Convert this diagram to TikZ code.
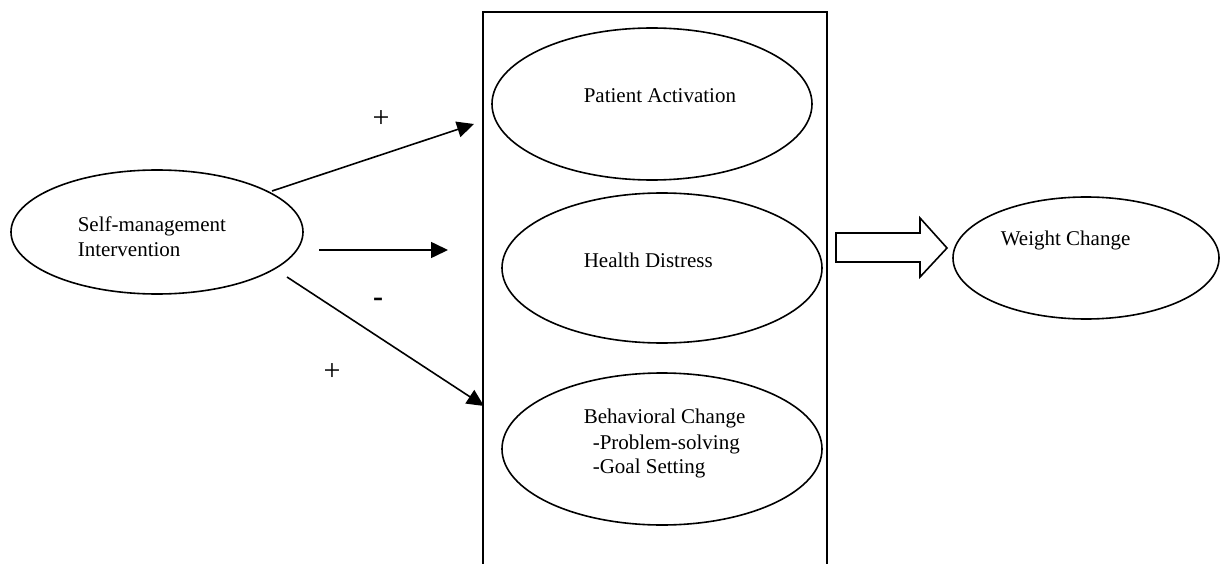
\documentclass[tikz,border=0pt]{standalone}
\usepackage{fontspec}
\setmainfont{Liberation Serif}
\usetikzlibrary{arrows.meta,shapes.geometric}
\begin{document}
\begin{tikzpicture}[x=1pt,y=-1pt,line width=1.6pt,
  oval/.style={draw,ellipse,inner sep=0pt,line width=1.6pt},
  lbl/.style={anchor=base west,inner sep=0pt,font=\fontsize{21}{26}\selectfont},
  sign/.style={inner sep=0pt,font=\fontsize{30}{30}\selectfont},
  conn/.style={-{Triangle[length=17pt,width=16pt]},line width=1.6pt}]
\useasboundingbox (0,0) rectangle (1220,564);
% frame around mediators
\draw (483,566) -- (483,12) -- (827,12) -- (827,566);
% ellipses
\node[oval,minimum width=292pt,minimum height=124pt] (smi) at (157,232) {};
\node[oval,minimum width=320pt,minimum height=152pt] (pa) at (652,104) {};
\node[oval,minimum width=320pt,minimum height=150pt] (hd) at (662,268) {};
\node[oval,minimum width=320pt,minimum height=152pt] (bc) at (662,449) {};
\node[oval,minimum width=266pt,minimum height=122pt] (wc) at (1086,258) {};
% texts
\node[lbl] (smit1) at (77,231) {Self-management};
\node[lbl] (smit2) at (77,256) {Intervention};
\node[lbl] (pat) at (583,103) {Patient Activation};
\node[lbl] (hdt) at (583,267) {Health Distress};
\node[lbl] (bct1) at (583,423) {Behavioral Change};
\node[lbl] (bct2) at (592,449) {-Problem-solving};
\node[lbl] (bct3) at (592,473) {-Goal Setting};
\node[lbl] (wct) at (1000,245) {Weight Change};
% arrows
\coordinate (s1) at (272,191);
\coordinate (e1) at (474,124);
\coordinate (s2) at (319,250);
\coordinate (e2) at (448,250);
\coordinate (s3) at (287,277);
\coordinate (e3) at (484,406);
\draw[conn] (s1) -- (e1);
\draw[conn] (s2) -- (e2);
\draw[conn] (s3) -- (e3);
% signs
\node[sign] (p1) at (381,119) {+};
\node[sign,font=\fontsize{30}{30}\selectfont\bfseries] (m1) at (378,302) {-};
\node[sign] (p2) at (332,372) {+};
% block arrow
\draw[line width=1.6pt,line join=miter] (836,233) -- (920,233) -- (920,218) -- (947,248) -- (920,277) -- (920,262) -- (836,262) -- cycle;
\end{tikzpicture}
\end{document}
